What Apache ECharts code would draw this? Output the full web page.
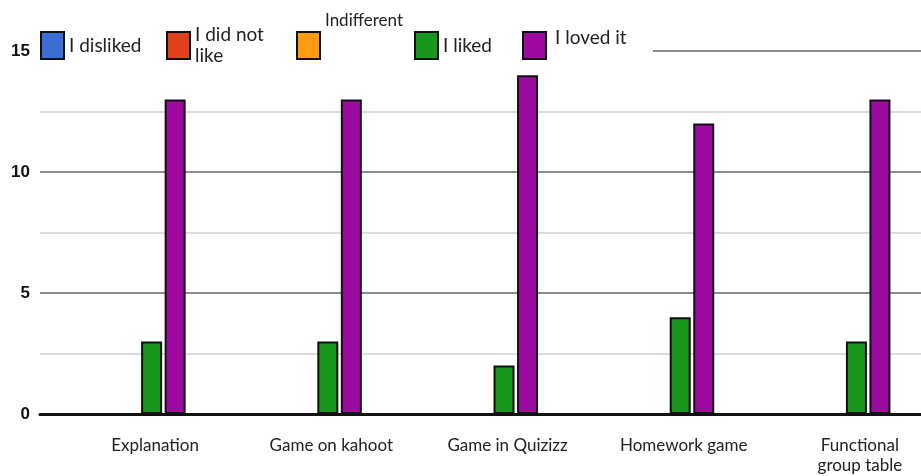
<!DOCTYPE html>
<html>
<head>
<meta charset="utf-8">
<script src="https://cdn.jsdelivr.net/npm/echarts@6/dist/echarts.min.js"></script>
<style>
  html, body { margin: 0; padding: 0; background: #fff; }
  #chart { width: 921px; height: 476px; }
</style>
</head>
<body>
<div id="chart"></div>
<script>
const categories = ['Explanation', 'Game on kahoot', 'Game in Quizizz', 'Homework game', 'Functional\ngroup table']
const seriesNames = ['I disliked', 'I did not like', 'Indifferent', 'I liked', 'I loved it']
const disliked = [0, 0, 0, 0, 0]
const didNotLike = [0, 0, 0, 0, 0]
const indifferent = [0, 0, 0, 0, 0]
const liked = [3, 3, 2, 4, 3]
const lovedIt = [13, 13, 14, 12, 13]
const yTicks = [0, 5, 10, 15]

const colors = ['#3b6fd6', '#e2401c', '#ff9c12', '#19961c', '#9c0aa0']
const values = [disliked, didNotLike, indifferent, liked, lovedIt]

const chart = echarts.init(document.getElementById('chart'), undefined, { renderer: 'canvas' })

const legendFont = { fontFamily: 'Lato, "Open Sans", sans-serif', fontSize: 19, color: '#222', lineHeight: 21 }

chart.setOption({
  backgroundColor: '#fff',
  animation: false,
  grid: { left: 40, right: 0, top: 51, bottom: 59 },
  legend: {
    left: 38,
    top: 10,
    padding: [2, 8, 2, 2],
    backgroundColor: '#fff',
    z: 1,
    itemWidth: 23,
    itemHeight: 27,
    itemGap: 9,
    icon: 'rect',
    data: seriesNames,
    formatter(name) {
      const key = ['a', 'b', 'c', 'd', 'e'][seriesNames.indexOf(name)]
      const text = name === 'I did not like' ? 'I did not\nlike' : name
      return `{${key}|${text}}`
    },
    textStyle: {
      ...legendFont,
      rich: {
        a: { ...legendFont, width: 88, padding: [0, 0, 0, 0] },
        b: { ...legendFont, width: 92 },
        c: { ...legendFont, fontSize: 17, width: 80, padding: [0, 0, 50, 0] },
        d: { ...legendFont, width: 70, padding: [0, 0, 0, 0] },
        e: { ...legendFont, width: 90, padding: [0, 0, 16, 4] },
      },
    },
  },
  xAxis: {
    type: 'category',
    data: categories,
    axisTick: { show: false },
    axisLine: { lineStyle: { color: '#111', width: 3 } },
    axisLabel: {
      color: '#222',
      fontFamily: 'Lato, "Open Sans", sans-serif',
      fontSize: 17,
      lineHeight: 20,
      margin: 22,
      padding: [0, 0, 0, 54],
      interval: 0,
    },
  },
  yAxis: {
    type: 'value',
    min: 0,
    max: 15,
    interval: 2.5,
    axisLine: { show: false },
    axisTick: { show: false },
    axisLabel: {
      margin: 10,
      color: '#111',
      fontFamily: '"Liberation Sans Narrow", "Liberation Sans", sans-serif',
      fontWeight: 'bold',
      fontSize: 17,
      formatter: (v) => (yTicks.includes(v) ? String(v) : ''),
    },
    splitLine: { lineStyle: { color: ['#8c8c8c', '#dcdcdc'], width: 2 } },
  },
  series: seriesNames.map((name, i) => ({
    name,
    type: 'bar',
    z: 3,
    data: values[i],
    barWidth: 21,
    barGap: '12%',
    barCategoryGap: '34%',
    itemStyle: { color: colors[i], borderColor: '#111', borderWidth: 2 },
  })),
})
</script>
</body>
</html>
